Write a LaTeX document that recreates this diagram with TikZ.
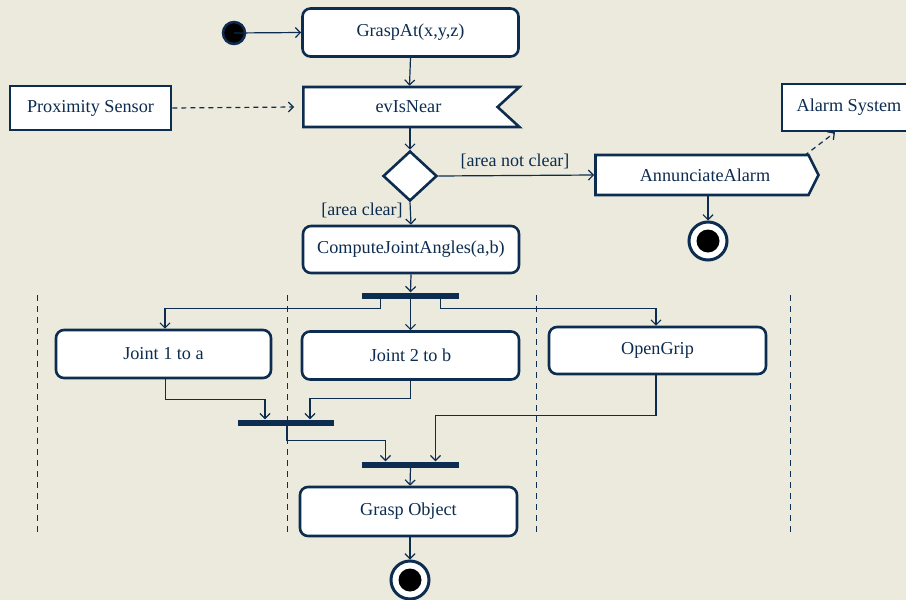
\documentclass[tikz,border=0pt]{standalone}
\usepackage{fontspec}
\setmainfont{Liberation Serif}
\usetikzlibrary{arrows.meta,shapes.geometric,shapes.symbols}
\definecolor{navy}{RGB}{12,44,80}
\definecolor{paper}{RGB}{236,234,221}
\tikzset{
  base/.style={draw=navy, line width=2.6pt, fill=white, text=navy, inner sep=0pt,
    font=\fontsize{18.2}{21}\selectfont},
  action/.style={base, rounded corners=8pt, minimum width=216pt, minimum height=48pt},
  plainbox/.style={base, rectangle},
  flow/.style={draw=navy, line width=1.2pt, -{Straight Barb[length=5pt,width=10pt]}},
  depend/.style={flow, dashed, dash pattern=on 5pt off 4pt},
  bar/.style={rectangle, fill=navy, inner sep=0pt, minimum width=97pt, minimum height=6pt},
  lane/.style={draw=navy, line width=1pt, dash pattern=on 6pt off 5pt},
  guard/.style={text=navy, font=\fontsize{18}{21}\selectfont},
  initial/.style={circle, draw=navy, line width=2.5pt, fill=black, minimum size=22pt, inner sep=0pt},
  final/.style={circle, draw=navy, line width=3pt, fill=white, minimum size=38pt, inner sep=0pt,
    path picture={\fill[black] (path picture bounding box.center) circle (11.5pt);}},
}
\begin{document}
\begin{tikzpicture}[x=1pt,y=-1pt]
  \useasboundingbox (0,0) rectangle (906,600);
  \fill[paper] (0,0) rectangle (906,600);

  % swimlane separators
  \foreach \lx in {37,287,536,790}
    \draw[lane] (\lx,295) -- (\lx,535);

  % nodes
  \node[initial] (start) at (234,33) {};
  \node[action] (grasp) at (410.5,32.5) {GraspAt(x,y,z)};
  \node[base, signal, signal from=east, signal to=nowhere, signal pointer angle=85,
        minimum width=216pt, minimum height=40pt] (near) at (400.5,107)
        {\hspace*{8pt}evIsNear\hspace*{-8pt}};
  \node[plainbox, minimum width=161pt, minimum height=44pt] (prox) at (90.5,108) {Proximity Sensor};
  \node[base, diamond, aspect=1.08, minimum width=54pt, minimum height=50pt] (dec) at (410,176) {};
  \node[base, signal, signal to=east, signal from=nowhere, signal pointer angle=127,
        minimum width=223pt, minimum height=40pt] (alarm) at (702,175)
        {\hspace*{3pt}AnnunciateAlarm\hspace*{-3pt}};
  \node[plainbox, minimum width=134pt, minimum height=47pt] (alsys) at (849,107.5) {};
  \node[text=navy, font=\fontsize{18.2}{21}\selectfont] at (849,107) {Alarm System};
  \node[final] (endA) at (708,241) {};
  \node[action, minimum height=47pt] (compute) at (411,249.5) {ComputeJointAngles(a,b)};
  \node[bar] (fork) at (410.5,295.5) {};
  \node[action, minimum width=215pt] (j1) at (163.5,354) {Joint 1 to a};
  \node[action, minimum width=217pt] (j2) at (410.5,355.5) {Joint 2 to b};
  \node[action, minimum width=217pt, minimum height=47pt] (og) at (657.5,350.5) {OpenGrip};
  \node[bar, minimum width=96pt] (join1) at (286,422.5) {};
  \node[bar] (join2) at (410.5,464.5) {};
  \node[action, minimum width=217pt, minimum height=49pt] (gobj) at (408.5,511.5) {Grasp Object};
  \node[final] (endB) at (410,580) {};

  % guards
  \node[guard] (gnc) at (515,161) {[area not clear]};
  \node[guard] (gc) at (362,210) {[area clear]};

  % connectors
  \draw[flow] (start.center) -- (grasp.west);
  \draw[flow] (grasp.south) -- ([xshift=9pt]near.north);
  \draw[depend] (prox.east) -- ([xshift=-8pt]near.west);
  \draw[flow] ([xshift=9.5pt]near.south) -- (dec.north);
  \draw[flow] (dec.east) -- (alarm.west);
  \draw[depend] ([xshift=-5pt,yshift=-2pt]alarm.north east) -- ([xshift=-14pt]alsys.south);
  \draw[flow] ([xshift=6pt]alarm.south) -- (endA.north);
  \draw[flow] (dec.south) -- (compute.north);
  \draw[flow] (compute.south) -- (fork.north);

  \draw[flow] ([xshift=-30pt]fork.south) -- ++(0,10) -| ([xshift=1.5pt]j1.north);
  \draw[flow] (fork.south) -- (j2.north);
  \draw[flow] ([xshift=30pt]fork.south) -- ++(0,10) -| ([xshift=-1.5pt]og.north);

  \draw[flow] ([xshift=2pt]j1.south) -- ++(0,20) -| ([xshift=-21pt]join1.north);
  \draw[flow] (j2.south) -- ++(0,18) -| ([xshift=24pt]join1.north);
  \draw[flow] ([xshift=1pt]join1.south) -- ++(0,15) -| ([xshift=-25pt]join2.north);
  \draw[flow] ([xshift=-1.5pt]og.south) -- ++(0,40) -| ([xshift=25pt]join2.north);
  \draw[flow] (join2.south) -- ([xshift=1.5pt]gobj.north);
  \draw[flow] ([xshift=1.5pt]gobj.south) -- (endB.north);
\end{tikzpicture}
\end{document}
